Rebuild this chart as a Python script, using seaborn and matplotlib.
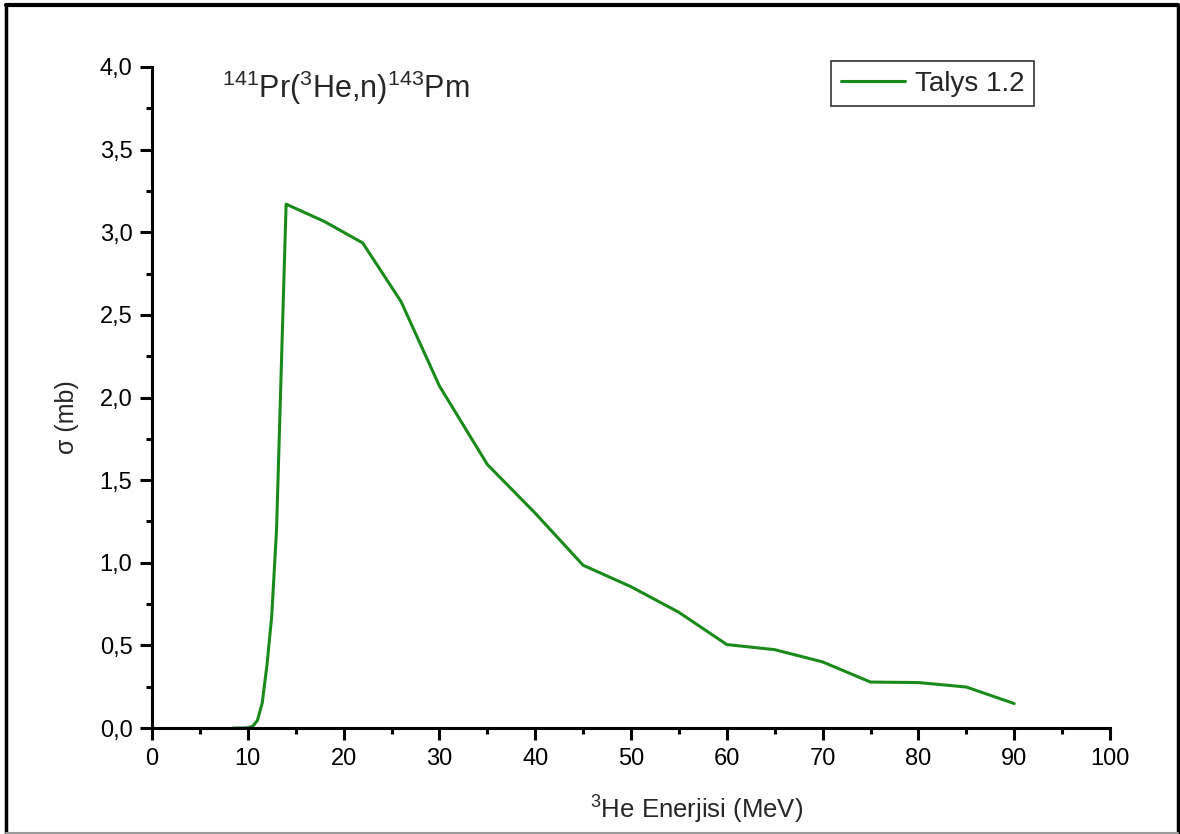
import matplotlib
matplotlib.use("Agg")
import matplotlib.pyplot as plt
from matplotlib.lines import Line2D
from matplotlib.ticker import MultipleLocator, FormatStrFormatter, FuncFormatter
import seaborn as sns
import pandas as pd

energy = [8.5, 9.5, 10, 10.5, 11, 11.5, 12, 12.5, 13, 14, 18, 22, 26, 30, 35, 40,
          45, 50, 55, 60, 65, 70, 75, 80, 85, 90]
sigma = [0.0, 0.0, 0.002, 0.01, 0.045, 0.15, 0.38, 0.68, 1.2, 3.17, 3.065, 2.935,
         2.58, 2.07, 1.595, 1.30, 0.985, 0.855, 0.70, 0.505, 0.474, 0.40, 0.278,
         0.275, 0.248, 0.148]
series_name = "Talys 1.2"
title_text = r"$^{141}$Pr($^{3}$He,n)$^{143}$Pm"
xlabel_text = r"$^{3}$He Enerjisi (MeV)"
ylabel_text = "σ (mb)"

sns.set_style("ticks")
plt.rcParams["font.family"] = ["Liberation Sans", "DejaVu Sans"]
plt.rcParams["mathtext.fontset"] = "custom"
plt.rcParams["mathtext.rm"] = "Liberation Sans"
plt.rcParams["mathtext.default"] = "regular"

df = pd.DataFrame({"E": energy, "s": sigma, "series": series_name})

fig = plt.figure(figsize=(11.8, 8.34), dpi=100)
ax = fig.add_axes([152 / 1180, 1 - 728 / 834, 958 / 1180, 661 / 834])

sns.lineplot(data=df, x="E", y="s", hue="series", palette=["#1a8a1a"],
             linewidth=2.2, ax=ax, sort=False, estimator=None)

ax.set_xlim(0, 100)
ax.set_ylim(0, 4.0)
ax.xaxis.set_major_locator(MultipleLocator(10))
ax.xaxis.set_minor_locator(MultipleLocator(5))
ax.yaxis.set_major_locator(MultipleLocator(0.5))
ax.yaxis.set_minor_locator(MultipleLocator(0.25))
ax.yaxis.set_major_formatter(FuncFormatter(lambda v, p: f"{v:.1f}".replace(".", ",")))
ax.xaxis.set_major_formatter(FormatStrFormatter("%d"))

for side in ["top", "right"]:
    ax.spines[side].set_visible(False)
for side in ["left", "bottom"]:
    ax.spines[side].set_linewidth(2.2)
    ax.spines[side].set_color("black")

ax.tick_params(which="major", direction="out", length=8.6, width=2.2, labelsize=17,
               colors="black", pad=5.5)
ax.tick_params(which="minor", direction="out", length=4.3, width=2.2, colors="black")

ax.set_xlabel(xlabel_text, fontsize=18.5)
ax.xaxis.set_label_coords((697 - 152) / 958, (728 - 810) / 661)
ax.xaxis.label.set_verticalalignment("center")
ax.xaxis.label.set_horizontalalignment("center")

ax.set_ylabel(ylabel_text, fontsize=18)
ax.yaxis.set_label_coords((67 - 152) / 958, (728 - 417) / 661)
ax.yaxis.label.set_verticalalignment("center")
ax.yaxis.label.set_horizontalalignment("center")

ax.text((222 - 152) / 958, (728 - 88) / 661, title_text, transform=ax.transAxes,
        fontsize=22, ha="left", va="center")

leg = ax.legend(loc="upper right", bbox_to_anchor=((1034 - 152) / 958, (728 - 61) / 661),
                borderaxespad=0, fontsize=20, frameon=True, fancybox=False,
                handlelength=2.3, borderpad=0.35, handletextpad=0.35)
leg.set_title(None)
leg.get_frame().set_edgecolor("black")
leg.get_frame().set_linewidth(1.2)

# outer frame
fig.add_artist(Line2D([6 / 1180, 6 / 1180], [0, 1 - 5 / 834], transform=fig.transFigure,
                      color="black", linewidth=2.5))
fig.add_artist(Line2D([6 / 1180, 1178 / 1180], [1 - 5 / 834, 1 - 5 / 834],
                      transform=fig.transFigure, color="black", linewidth=3))
fig.add_artist(Line2D([1178 / 1180, 1178 / 1180], [0, 1 - 5 / 834],
                      transform=fig.transFigure, color="black", linewidth=2.5))
fig.add_artist(Line2D([6 / 1180, 1178 / 1180], [1 / 834, 1 / 834],
                      transform=fig.transFigure, color="#999999", linewidth=1.5))

fig.savefig("out.png", dpi=100)
